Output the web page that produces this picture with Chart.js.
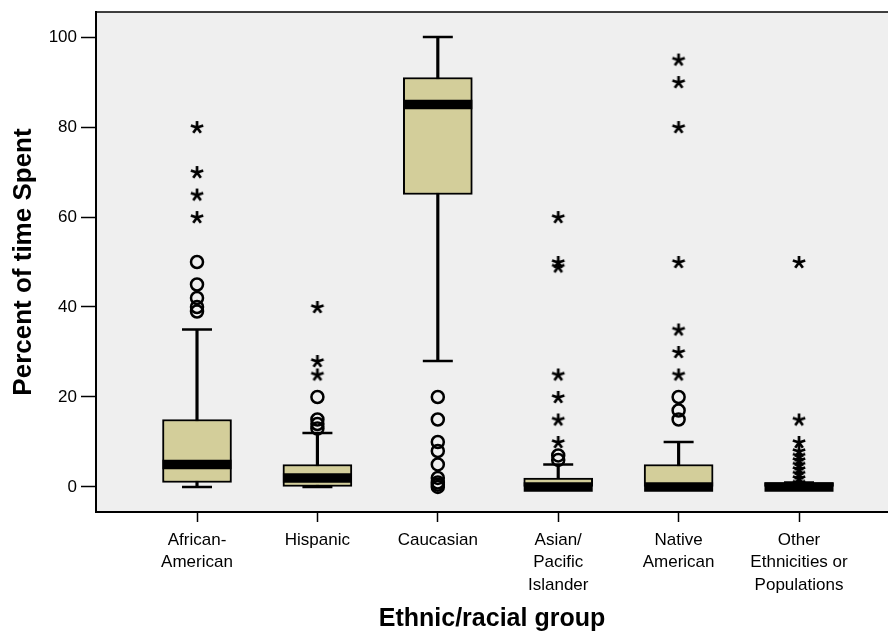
<!DOCTYPE html>
<html><head><meta charset="utf-8">
<script src="https://cdn.jsdelivr.net/npm/chart.js@4/dist/chart.umd.min.js"></script>
<style>html,body{margin:0;padding:0;background:#fff;}</style>
</head><body>
<canvas id="c" width="888" height="635"></canvas>
<script>
// ---- data ----
const categories = [['African-','American'],['Hispanic'],['Caucasian'],['Asian/','Pacific','Islander'],['Native','American'],['Other','Ethnicities or','Populations']];
const whiskerLow  = [0, 0, 28, 0, 0, 0];
const q1          = [1, 0, 65, 0, 0, 0];
const median      = [5, 2, 85, 0, 0, 0];
const q3          = [15, 5, 91, 2, 5, 1];
const whiskerHigh = [35, 12, 100, 5, 10, 1];
const outliers = [[50,45,42,40,39],[20,15,14,13],[20,15,10,8,5,2,1,0.5,0],[7,6],[20,17,15],[]];
const extremes = [[80,70,65,60],[40,28,25],[],[60,50,49,25,20,15,10],[95,90,80,50,35,30,25],[50,15,10,8,7,6,5,4,3,2,1]];
const yTicks = [0,20,40,60,80,100];

const FONT = "Arial, 'Liberation Sans', sans-serif";
const idx = categories.map((_, i) => i);

function makeAsterisk(){
  const c = document.createElement('canvas'); c.width = 16; c.height = 16;
  const g = c.getContext('2d');
  g.strokeStyle = '#000'; g.lineWidth = 2.7; g.lineCap = 'butt';
  g.beginPath();
  for (let k = 0; k < 5; k++) {
    const a = -Math.PI/2 + k*2*Math.PI/5;
    g.moveTo(8, 8.5); g.lineTo(8 + 6.5*Math.cos(a), 8.5 + 6.5*Math.sin(a));
  }
  g.stroke();
  return c;
}
const asterisk = makeAsterisk();

const frame = {
  id: 'frame',
  beforeDraw(chart){
    const {ctx, chartArea: a} = chart;
    ctx.save();
    ctx.fillStyle = '#EFEFEF';
    ctx.fillRect(a.left, a.top, a.right - a.left, a.bottom - a.top);
    ctx.restore();
  },
  afterDraw(chart){
    const {ctx, chartArea: a} = chart;
    ctx.save();
    ctx.strokeStyle = '#000'; ctx.lineWidth = 1.5;
    ctx.beginPath(); ctx.moveTo(a.left, a.top); ctx.lineTo(a.right, a.top); ctx.stroke();
    ctx.restore();
  }
};

const pts = (groups) => groups.flatMap((arr, i) => arr.map(v => ({x: i, y: v})));

new Chart(document.getElementById('c'), {
  type: 'bar',
  data: {
    datasets: [
      { type: 'scatter', data: pts(outliers), pointStyle: 'circle', pointRadius: 6, pointHoverRadius: 6,
        pointBorderWidth: 2.5, pointBorderColor: '#000', pointBackgroundColor: 'rgba(0,0,0,0)' },
      { type: 'scatter', data: pts(extremes), pointStyle: asterisk, pointRadius: 8, pointHoverRadius: 8 },
      { type: 'scatter', data: median.map((v, i) => ({x: i, y: v})), pointStyle: 'line', pointRadius: 34.5, pointHoverRadius: 34.5,
        pointBorderWidth: 9.5, pointBorderColor: '#000' },
      { type: 'bar', data: idx.map(i => ({x: i, y: [q1[i], q3[i]]})), backgroundColor: '#D3CE9A', borderColor: '#000',
        borderWidth: 2, borderSkipped: false, barThickness: 69, grouped: false },
      { type: 'scatter', data: [...whiskerLow.map((v, i) => ({x: i, y: v})), ...whiskerHigh.map((v, i) => ({x: i, y: v}))],
        pointStyle: 'line', pointRadius: 15, pointHoverRadius: 15, pointBorderWidth: 2.5, pointBorderColor: '#000' },
      { type: 'bar', data: idx.map(i => ({x: i, y: [whiskerLow[i], whiskerHigh[i]]})), backgroundColor: '#000',
        borderWidth: 0, barThickness: 2.5, grouped: false }
    ]
  },
  options: {
    responsive: false, animation: false, devicePixelRatio: 1,
    layout: { autoPadding: false, padding: { left: 0, right: 0, top: 12, bottom: 0 } },
    plugins: { legend: { display: false }, tooltip: { enabled: false } },
    scales: {
      x: {
        type: 'linear', min: -0.8389, max: 5.739, offset: false,
        afterBuildTicks: s => { s.ticks = idx.map(v => ({value: v})); },
        afterFit: s => { s.height = 123; s.paddingLeft = 0; s.paddingRight = 0; },
        ticks: { autoSkip: false, maxRotation: 0, padding: 7, color: '#000',
          font: { family: FONT, size: 17, lineHeight: 1.32 }, callback: v => categories[v] },
        grid: { offset: false, drawOnChartArea: false, tickLength: 10, tickColor: '#000', tickWidth: 1.5 },
        border: { display: true, color: '#000', width: 2 },
        title: { display: true, text: 'Ethnic/racial group', color: '#000',
          font: { family: FONT, size: 25, weight: 'bold', lineHeight: 1.2 }, padding: { top: 0, bottom: 1 } }
      },
      y: {
        type: 'linear', min: -5.556, max: 105.556,
        afterBuildTicks: s => { s.ticks = yTicks.map(v => ({value: v})); },
        afterFit: s => { s.width = 96; s.paddingTop = 0; s.paddingBottom = 0; },
        ticks: { padding: 4, color: '#000', font: { family: FONT, size: 17 } },
        grid: { drawOnChartArea: false, tickLength: 15, tickColor: '#000', tickWidth: 1.5 },
        border: { display: true, color: '#000', width: 2 },
        title: { display: true, text: 'Percent of time Spent', color: '#000',
          font: { family: FONT, size: 26, weight: 'bold', lineHeight: 1.2 }, padding: { top: 8, bottom: 0 } }
      }
    }
  },
  plugins: [frame]
});
</script>
</body></html>
